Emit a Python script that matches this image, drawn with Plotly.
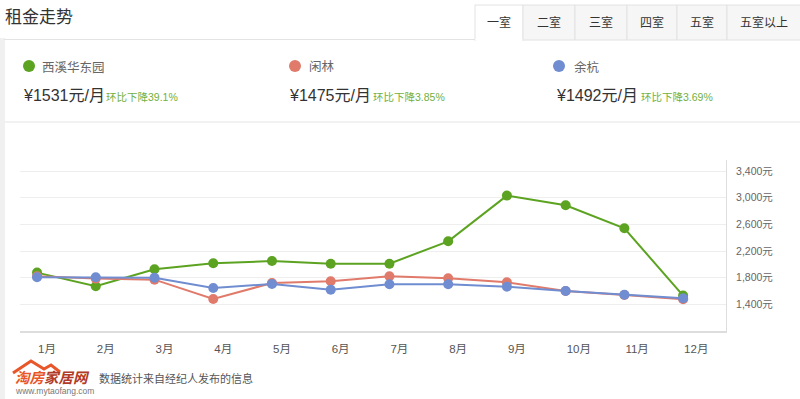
import plotly.graph_objects as go

months = ["1月", "2月", "3月", "4月", "5月", "6月", "7月", "8月", "9月", "10月", "11月", "12月"]
xihu = [1876, 1670, 1925, 2015, 2050, 2010, 2010, 2345, 3031, 2885, 2540, 1531]
xianlin = [1820, 1786, 1770, 1480, 1720, 1745, 1820, 1790, 1730, 1600, 1540, 1475]
yuhang = [1805, 1805, 1800, 1645, 1705, 1620, 1700, 1700, 1665, 1600, 1545, 1492]
series_names = ["西溪华东园", "闲林", "余杭"]
series_colors = ["#5ca321", "#e07a6b", "#6f8dd0"]
prices = ["¥1531元/月", "¥1475元/月", "¥1492元/月"]
changes = ["环比下降39.1%", "环比下降3.85%", "环比下降3.69%"]
y_ticks = [1400, 1800, 2200, 2600, 3000, 3400]
y_ticktext = ["1,400元", "1,800元", "2,200元", "2,600元", "3,000元", "3,400元"]
tabs = ["一室", "二室", "三室", "四室", "五室", "五室以上"]

W, H = 800, 399
L, R, T, B = 20, 74, 160, 68
PW, PH = W - L - R, H - T - B
FONT = "Liberation Sans, Noto Sans CJK SC, sans-serif"


def px(x):
    return (x - L) / PW


def py(y):
    return (H - B - y) / PH


x_idx = list(range(1, len(months) + 1))
fig = go.Figure()
for name, vals, col in zip(series_names, [xihu, xianlin, yuhang], series_colors):
    fig.add_trace(go.Scatter(
        x=x_idx, y=vals, mode="lines+markers", name=name,
        line=dict(color=col, width=2),
        marker=dict(color=col, size=10),
        hoverinfo="skip", showlegend=False,
    ))

shapes = []
annotations = []

# left panel edge
shapes.append(dict(type="rect", xref="paper", yref="paper", x0=px(0), x1=px(5), y0=py(399), y1=py(38),
                   fillcolor="#f0f0f0", line=dict(width=0), layer="below"))
# panel top border
shapes.append(dict(type="line", xref="paper", yref="paper", x0=px(4), x1=px(800), y0=py(39.5), y1=py(39.5),
                   line=dict(color="#e3e3e3", width=1)))
# separator under legend
shapes.append(dict(type="line", xref="paper", yref="paper", x0=px(5), x1=px(800), y0=py(122), y1=py(122),
                   line=dict(color="#eeeeee", width=1.5)))

# tabs
tab_edges = [475, 523, 575, 627, 677, 727, 801]
for i, t in enumerate(tabs):
    x0, x1 = tab_edges[i], tab_edges[i + 1]
    active = i == 0
    shapes.append(dict(type="rect", xref="paper", yref="paper", x0=px(x0), x1=px(x1), y0=py(40 if not active else 40.5), y1=py(5),
                       fillcolor="#ffffff" if active else "#f6f6f6", line=dict(color="#e2e2e2", width=1)))
    annotations.append(dict(xref="paper", yref="paper", x=px((x0 + x1) / 2), y=py(22), text=t, showarrow=False,
                            xanchor="center", yanchor="middle", font=dict(size=12, color="#333333", family=FONT)))
# hide the bottom border of the active tab
shapes.append(dict(type="line", xref="paper", yref="paper", x0=px(475.5), x1=px(522.5), y0=py(40), y1=py(40),
                   line=dict(color="#ffffff", width=2)))

# title
annotations.append(dict(xref="paper", yref="paper", x=px(3), y=py(17), text="租金走势", showarrow=False,
                        xanchor="left", yanchor="middle", font=dict(size=17, color="#333333", family=FONT)))

# legend blocks
dot_x = [29, 295, 559]
name_x = [40, 307, 572]
price_x = [21, 287, 554]
change_x = [104, 371, 639]
for i in range(3):
    shapes.append(dict(type="circle", xref="paper", yref="paper", x0=px(dot_x[i] - 6), x1=px(dot_x[i] + 6),
                       y0=py(66 + 6), y1=py(66 - 6), fillcolor=series_colors[i], line=dict(width=0)))
    annotations.append(dict(xref="paper", yref="paper", x=px(name_x[i]), y=py(67), text=series_names[i], showarrow=False,
                            xanchor="left", yanchor="middle", font=dict(size=12.5, color="#666666", family=FONT)))
    annotations.append(dict(xref="paper", yref="paper", x=px(price_x[i]), y=py(95), text=prices[i], showarrow=False,
                            xanchor="left", yanchor="middle", font=dict(size=16, color="#333333", family=FONT)))
    annotations.append(dict(xref="paper", yref="paper", x=px(change_x[i]), y=py(96.5), text=changes[i], showarrow=False,
                            xanchor="left", yanchor="middle", font=dict(size=10.5, color="#72b040", family=FONT)))

# footer logo
shapes.append(dict(type="path", xref="paper", yref="paper",
                   path=f"M {px(13)},{py(373)} L {px(31)},{py(361)} L {px(44)},{py(369)} L {px(51)},{py(365)} L {px(60)},{py(372)}",
                   line=dict(color="#e8562a", width=3)))
annotations.append(dict(xref="paper", yref="paper", x=px(13), y=py(377.5),
                        text="<b><i><span style='color:#e8562a'>淘房</span><span style='color:#b23a28'>家居网</span></i></b>",
                        showarrow=False, xanchor="left", yanchor="middle", font=dict(size=14.5, family=FONT)))
annotations.append(dict(xref="paper", yref="paper", x=px(13), y=py(391), text="www.mytaofang.com", showarrow=False,
                        xanchor="left", yanchor="middle", font=dict(size=8.5, color="#777777", family=FONT)))
annotations.append(dict(xref="paper", yref="paper", x=px(97), y=py(378), text="数据统计来自经纪人发布的信息", showarrow=False,
                        xanchor="left", yanchor="middle", font=dict(size=11, color="#555555", family=FONT)))

fig.update_layout(
    width=W, height=H,
    margin=dict(l=L, r=R, t=T, b=B, pad=0),
    paper_bgcolor="#ffffff", plot_bgcolor="#ffffff",
    font=dict(family=FONT, color="#555555"),
    shapes=shapes, annotations=annotations,
    xaxis=dict(
        range=[0.71, 12.73], tickvals=x_idx, ticktext=months,
        showgrid=False, zeroline=False, showline=True, linecolor="#dddddd", linewidth=2,
        ticks="", ticklabelposition="outside right", ticklabelstandoff=6,
        tickfont=dict(size=11.5, color="#555555", family=FONT), fixedrange=True,
    ),
    yaxis=dict(
        range=[1000, 3565], side="right", tickvals=y_ticks, ticktext=y_ticktext,
        showgrid=True, gridcolor="#eeeeee", gridwidth=1, zeroline=False,
        showline=True, linecolor="#dddddd", linewidth=1, ticks="", ticklabelstandoff=7,
        tickfont=dict(size=10.5, color="#666666", family=FONT), fixedrange=True,
    ),
)

fig.write_html("out.html")
